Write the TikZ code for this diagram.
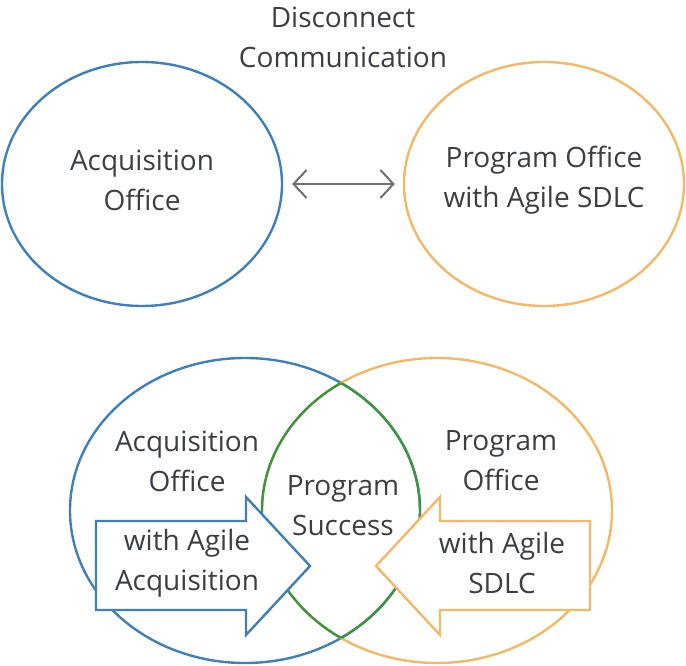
\documentclass[tikz,border=0pt]{standalone}
\usepackage{fontspec}
\setmainfont{Open Sans}
\usepackage{tikz}
\usetikzlibrary{arrows.meta}
\usetikzlibrary{shapes.geometric}

\definecolor{acqblue}{HTML}{3F7FBA}
\definecolor{progorange}{HTML}{F4B867}
\definecolor{lensgreen}{HTML}{3C963F}
\definecolor{linkgray}{HTML}{707070}
\definecolor{inkgray}{HTML}{3A3F45}

\tikzset{
  hand/.style={font=\fontsize{28}{40}\selectfont,text=inkgray,align=center,inner sep=0pt},
  office/.style={ellipse,line width=2.4pt,minimum width=280pt,minimum height=244pt},
  pointer/.style={line width=2.4pt,fill=white,line join=miter}
}

\begin{document}
\begin{tikzpicture}[x=1pt,y=-1pt]
\useasboundingbox (0,0) rectangle (686,666);
% top: two separate offices
\node[hand] (gap) at (343,37) {Disconnect\\Communication};
\node[office,draw=acqblue] (acq) at (142,184) {};
\node[office,draw=progorange] (prog) at (544,184) {};
\node[hand] (acqtxt) at (142,180) {Acquisition\\Office};
\node[hand] (progtxt) at (544,180) {Program Office\\with Agile SDLC};
\draw[linkgray,line width=2pt,{Straight Barb[length=13pt,width=28pt]}-{Straight Barb[length=13pt,width=28pt]},shorten <=9pt,shorten >=8pt] (acq) -- (prog);
% bottom: overlapping offices
\coordinate (ca) at (245,510.5);
\coordinate (cp) at (437,510.5);
\draw[acqblue,line width=2.4pt] (ca) ellipse (175 and 152.5);
\draw[progorange,line width=2.4pt] (cp) ellipse (175 and 152.5);
\begin{scope}
\clip (ca) ellipse (175 and 152.5);
\draw[lensgreen,line width=2.4pt] (cp) ellipse (175 and 152.5);
\end{scope}
\begin{scope}
\clip (cp) ellipse (175 and 152.5);
\draw[lensgreen,line width=2.4pt] (ca) ellipse (175 and 152.5);
\end{scope}
\draw[pointer,draw=acqblue] (96,521) -- (246,521) -- (246,497) -- (310,566) -- (246,635) -- (246,610) -- (96,610) -- cycle;
\draw[pointer,draw=progorange] (590,521) -- (440,521) -- (440,497) -- (376,566) -- (440,635) -- (440,610) -- (590,610) -- cycle;
\node[hand] (acqlbl) at (187,461) {Acquisition\\Office};
\node[hand] (proglbl) at (501,461) {Program\\Office};
\node[hand] (success) at (343,506) {Program\\Success};
\node[hand] (agileacq) at (187,563) {with Agile\\Acquisition};
\node[hand] (agilesdlc) at (502,563) {with Agile\\SDLC};
\end{tikzpicture}
\end{document}
